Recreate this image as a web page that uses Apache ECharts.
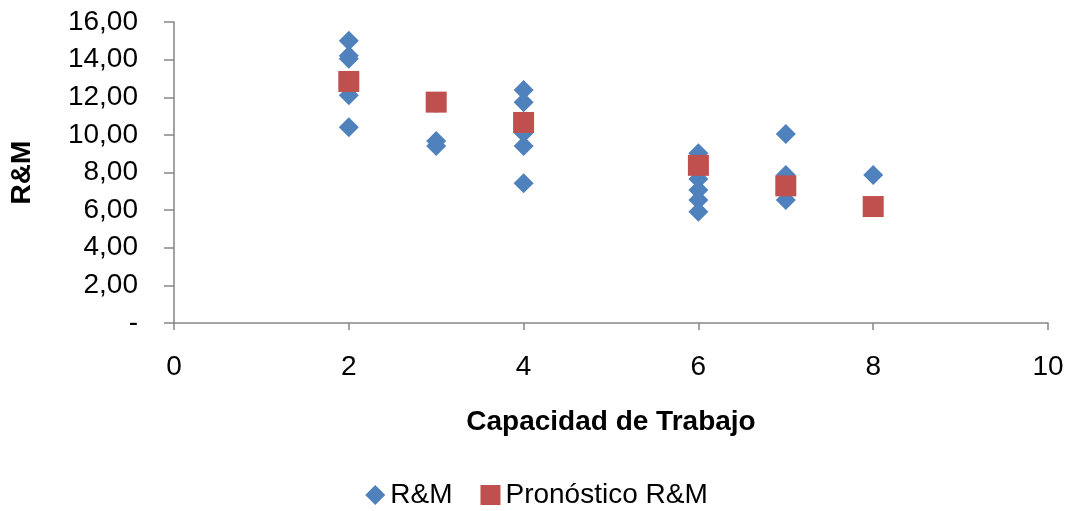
<!DOCTYPE html>
<html>
<head>
<meta charset="utf-8">
<script src="https://cdn.jsdelivr.net/npm/echarts@6/dist/echarts.min.js"></script>
<style>
html,body{margin:0;padding:0;background:#fff;}
#c{width:1073px;height:511px;}
</style>
</head>
<body>
<div id="c"></div>
<script>
var rmX = [2,2,2,2,2, 3,3,3, 4,4,4,4,4, 6,6,6,6,6, 7,7,7, 8];
var rmY = [15.00,14.20,14.05,12.10,10.40, 11.70,9.68,9.41, 12.39,11.74,10.10,9.41,7.43, 9.02,7.65,7.07,6.54,5.92, 10.04,7.87,6.54, 7.87];
var fcX = [2,3,4,6,7,8];
var fcY = [12.84,11.74,10.66,8.38,7.29,6.19];
var seriesNames = ['R&M','Pronóstico R&M'];
var xTitle = 'Capacidad de Trabajo';
var yTitle = 'R&M';

function pairs(xs, ys){ return xs.map(function(x,i){return [x, ys[i]];}); }

var font = 'Liberation Sans, Arial, sans-serif';
var axisColor = '#868686';
var chart = echarts.init(document.getElementById('c'), null, {renderer:'canvas'});
chart.setOption({
  animation:false,
  backgroundColor:'#ffffff',
  grid:{left:174, right:25, top:22, bottom:188, containLabel:false},
  legend:{
    bottom:-3, left:'center', itemGap:28, itemWidth:20, itemHeight:20,
    textStyle:{fontFamily:font, fontSize:28, color:'#000'},
    data:[{name:seriesNames[0], icon:'diamond', itemStyle:{color:'#4F81BD', opacity:1}},
          {name:seriesNames[1], icon:'rect', itemStyle:{color:'#C0504D', opacity:1}}]
  },
  xAxis:{
    type:'value', min:0, max:10, interval:2,
    name:xTitle, nameLocation:'middle', nameGap:85,
    nameTextStyle:{fontFamily:font, fontSize:28, fontWeight:'bold', color:'#000'},
    axisLine:{show:true, lineStyle:{color:axisColor, width:1.5}},
    axisTick:{show:true, length:7, lineStyle:{color:axisColor, width:1.5}},
    axisLabel:{fontFamily:font, fontSize:28, color:'#000', margin:30},
    splitLine:{show:false}
  },
  yAxis:{
    type:'value', min:0, max:16, interval:2,
    name:yTitle, nameLocation:'middle', nameGap:138, nameRotate:90,
    nameTextStyle:{fontFamily:font, fontSize:28, fontWeight:'bold', color:'#000'},
    axisLine:{show:true, lineStyle:{color:axisColor, width:1.5}},
    axisTick:{show:true, length:10, lineStyle:{color:axisColor, width:1.5}},
    axisLabel:{fontFamily:font, fontSize:28, color:'#000', margin:36,
      formatter:function(v){ return v===0 ? '-' : v.toFixed(2).replace('.', ','); }},
    splitLine:{show:false}
  },
  series:[
    {name:seriesNames[0], type:'scatter', symbol:'diamond', symbolSize:20,
     itemStyle:{color:'#4F81BD', opacity:1}, data:pairs(rmX, rmY), z:2},
    {name:seriesNames[1], type:'scatter', symbol:'rect', symbolSize:21,
     itemStyle:{color:'#C0504D', opacity:1}, data:pairs(fcX, fcY), z:3}
  ]
});
</script>
</body>
</html>
